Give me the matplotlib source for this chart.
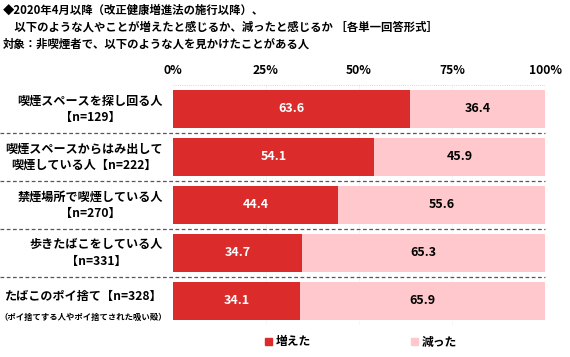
import matplotlib
matplotlib.use("Agg")
import matplotlib.pyplot as plt
from matplotlib.patches import Patch

plt.rcParams['font.family'] = ['Noto Sans CJK JP', 'DejaVu Sans']

categories = [
    "喫煙スペースを探し回る人\n【n=129】",
    "喫煙スペースからはみ出して\n喫煙している人【n=222】",
    "禁煙場所で喫煙している人\n【n=270】",
    "歩きたばこをしている人\n【n=331】",
    "たばこのポイ捨て【n=328】",
]
sub_note = "（ポイ捨てする人やポイ捨てされた吸い殻）"
increased = [63.6, 54.1, 44.4, 34.7, 34.1]
decreased = [36.4, 45.9, 55.6, 65.3, 65.9]
series_names = ["増えた", "減った"]
tick_vals = [0, 25, 50, 75, 100]
tick_labels = ["0%", "25%", "50%", "75%", "100%"]
title_lines = [
    "◆2020年4月以降（改正健康増進法の施行以降）、",
    "　以下のような人やことが増えたと感じるか、減ったと感じるか ［各単一回答形式］",
    "対象：非喫煙者で、以下のような人を見かけたことがある人",
]

red = "#dc2b2b"
pink = "#ffc8cc"

W, H = 570, 357
fig = plt.figure(figsize=(W / 100, H / 100), dpi=100)
ax = fig.add_axes([173 / W, 1 - 325 / H, (545 - 173) / W, (325 - 85) / H])

n = len(categories)
ys = list(range(n))
bh = 0.79
ax.barh(ys, increased, height=bh, color=red, left=0)
ax.barh(ys, decreased, height=bh, color=pink, left=increased)
ax.set_xlim(0, 100)
ax.set_ylim(n - 0.5, -0.5)

for y, a, b in zip(ys, increased, decreased):
    ax.text(a / 2, y, f"{a:.1f}", ha='center', va='center', color='white',
            fontsize=9, fontweight='bold')
    ax.text(a + b / 2, y, f"{b:.1f}", ha='center', va='center', color='black',
            fontsize=9, fontweight='bold')

label_x = -(173 - 163) / (545 - 173)
for y, lab in zip(ys, categories):
    if y == n - 1:
        ax.text(label_x, y - 0.09, lab, ha='right', va='center', multialignment='center',
                fontsize=8.7, fontweight='bold', transform=ax.get_yaxis_transform())
        ax.text(label_x + 4 / 372, y + 0.35, sub_note, ha='right', va='center',
                fontsize=6, fontweight='bold', transform=ax.get_yaxis_transform())
    else:
        ax.text(label_x, y, lab, ha='right', va='center', multialignment='center',
                fontsize=8.7, fontweight='bold', transform=ax.get_yaxis_transform(),
                linespacing=1.35)

for y in range(n - 1):
    ax.axhline(y + 0.5, xmin=-173 / 372, xmax=1.0, color='#555566', lw=0.9,
               ls=(0, (3, 2)), clip_on=False)

for x in tick_vals[1:-1]:
    ax.axvline(x, color='#dddddd', lw=0.5, ls=':', zorder=0)
ax.axhline(-0.5, color='#cccccc', lw=0.6, ls=':', zorder=0)

ax.set_xticks(tick_vals)
ax.set_xticklabels(tick_labels, fontsize=8.7, fontweight='bold')
ax.xaxis.tick_top()
ax.tick_params(axis='x', length=0, pad=6)
ax.set_yticks([])
for s in ax.spines.values():
    s.set_visible(False)

for i, line in enumerate(title_lines):
    fig.text(3 / W, 1 - (10 + 17 * i) / H, line, ha='left', va='center',
             fontsize=8.2, fontweight='bold')

handles = [Patch(color=red), Patch(color=pink)]
fig.legend(handles, series_names, loc='center', bbox_to_anchor=(361 / W, 1 - 342 / H),
           ncol=2, frameon=False, handlelength=0.6, handleheight=0.6,
           handletextpad=0.3, columnspacing=8.5, prop={'weight': 'bold', 'size': 8.5})

fig.savefig("out.png", dpi=100)
